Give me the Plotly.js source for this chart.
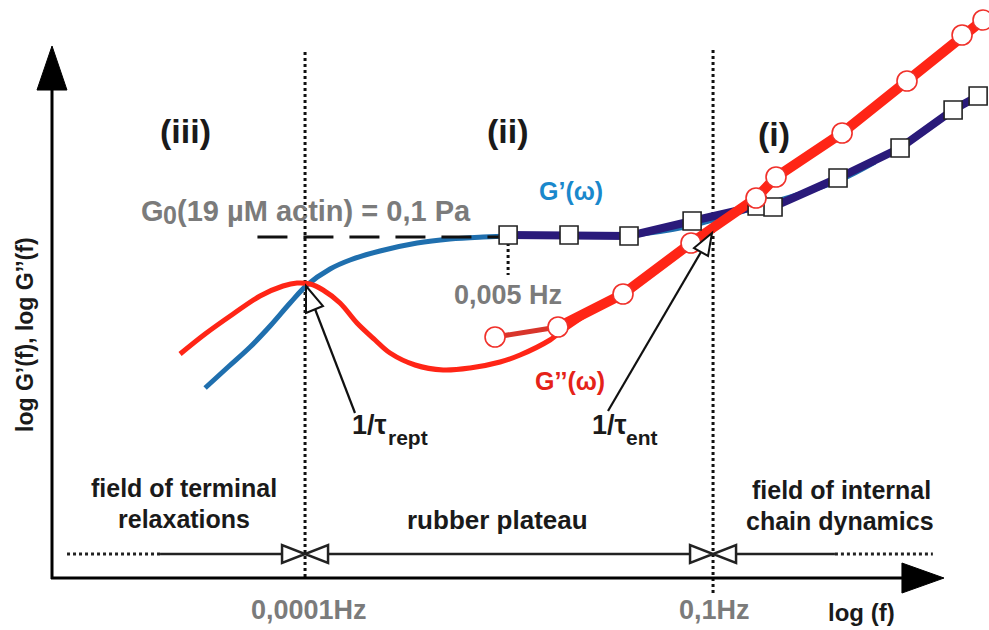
<!DOCTYPE html>
<html><head><meta charset="utf-8">
<script src="https://cdn.plot.ly/plotly-3.0.1.min.js"></script>
<style>html,body{margin:0;padding:0;background:#fff;} #chart{width:989px;height:630px;}</style>
</head><body><div id="chart"></div>
<script>
// x = log10(f / Hz), y = log G (arbitrary decades; plateau G0 = 0.1 Pa -> -1)
const modelGpX  = [-4.735, -4.566, -4.404, -4.257, -4.110, -3.985, -3.816, -3.669, -3.449, -3.176, -2.934, -2.691, -2.493, -2.051, -1.610, -1.169, -0.949, -0.654, -0.360, -0.066, 0.191];
const modelGpY  = [-2.51, -2.30, -2.10, -1.89, -1.66, -1.48, -1.32, -1.23, -1.14, -1.06, -1.02, -1.00, -0.99, -0.98, -0.98, -0.89, -0.81, -0.69, -0.57, -0.43, -0.25];
const modelGppX = [-4.919, -4.735, -4.529, -4.331, -4.162, -4.059, -3.963, -3.868, -3.743, -3.618, -3.485, -3.375, -3.191, -2.985, -2.787, -2.566, -2.419, -2.199, -2.140, -1.904];
const modelGppY = [-2.17, -1.97, -1.77, -1.59, -1.49, -1.46, -1.47, -1.53, -1.66, -1.86, -2.03, -2.16, -2.28, -2.33, -2.31, -2.25, -2.18, -2.03, -1.97, -1.75];
const dataGpX   = [-2.507, -2.059, -1.618, -1.154, -0.676, -0.559, -0.081, 0.375, 0.765, 0.949];
const dataGpY   = [-0.98, -0.98, -0.99, -0.84, -0.69, -0.70, -0.41, -0.11, 0.27, 0.41];
const dataGppX  = [-2.603, -2.140, -1.662, -1.162, -0.684, -0.537, -0.051, 0.426, 0.831, 0.985];
const dataGppY  = [-2.00, -1.90, -1.57, -1.06, -0.61, -0.40, 0.04, 0.56, 1.02, 1.17];
const plateauLogG = -1;          // G0(19 µM actin) = 0,1 Pa
const plateauStartLogF = -4.35;
const plateauOnsetLabelY = -1.38;
const crossoverLogF = [-4, -1];
const crossoverLabels = ['0,0001Hz', '0,1Hz'];
const regionLabels = ['(iii)', '(ii)', '(i)'];
const fieldLabels = [['field of terminal', 'relaxations'], ['rubber plateau'], ['field of internal', 'chain dynamics']];

const FONT = 'Liberation Sans, Arial, Helvetica, sans-serif';
const W = 989, H = 630;
const PX = x => x / W, PY = y => 1 - y / H;
const P = (x, y) => `${PX(x).toFixed(4)},${PY(y).toFixed(4)}`;

const RED = '#ff2516', BLUE = '#1f6fae', NAVY = '#2a1a7a';

const traces = [
  {x: modelGpX, y: modelGpY, mode: 'lines', line: {color: BLUE, width: 5, shape: 'spline', smoothing: 1}},
  {x: modelGppX, y: modelGppY, mode: 'lines', line: {color: RED, width: 5, shape: 'spline', smoothing: 1}},
  {x: [plateauStartLogF, dataGpX[0]], y: [plateauLogG, plateauLogG], mode: 'lines', line: {color: '#111', width: 3, dash: '30px,16px'}},
  {x: [dataGpX[0], dataGpX[0]], y: [plateauLogG, plateauOnsetLabelY], mode: 'lines', line: {color: '#111', width: 3, dash: 'dot'}},
  {x: dataGpX, y: dataGpY, mode: 'lines', line: {color: NAVY, width: 8}},
  {x: dataGppX.slice(0, 2), y: dataGppY.slice(0, 2), mode: 'lines', line: {color: '#d8352b', width: 5}},
  {x: dataGppX.slice(1), y: dataGppY.slice(1), mode: 'lines', line: {color: RED, width: 10}},
  {x: dataGpX, y: dataGpY, mode: 'markers', marker: {symbol: 'square', size: 18, color: '#fff', line: {color: '#222', width: 1.6}}},
  {x: dataGppX, y: dataGppY, mode: 'markers', marker: {symbol: 'circle', size: 20, color: '#fff', line: {color: '#f0302a', width: 1.6}}}
];

const shapes = [];
crossoverLogF.forEach((c, i) => {
  shapes.push({type: 'line', xref: 'x', yref: 'paper', x0: c, x1: c, y0: PY(i === 0 ? 577 : 593), y1: PY(50),
    line: {color: '#111', width: 3, dash: 'dot'}, layer: 'below'});
});
shapes.push({type: 'line', xref: 'paper', yref: 'paper', x0: PX(52), x1: PX(52), y0: PY(579), y1: PY(88), line: {color: '#000', width: 3}});
shapes.push({type: 'path', xref: 'paper', yref: 'paper', path: `M ${P(52,46)} L ${P(37,90)} L ${P(67,90)} Z`, fillcolor: '#000', line: {color: '#000', width: 1}});
shapes.push({type: 'line', xref: 'paper', yref: 'paper', x0: PX(51), x1: PX(905), y0: PY(578), y1: PY(578), line: {color: '#000', width: 3}});
shapes.push({type: 'path', xref: 'paper', yref: 'paper', path: `M ${P(944,578)} L ${P(902,563)} L ${P(902,593)} Z`, fillcolor: '#000', line: {color: '#000', width: 1}});

const yb = PY(554), hb = 9 / H, bw = 23 / 136, seg = 122 / 136;
const c0 = crossoverLogF[0], c1 = crossoverLogF[1];
shapes.push({type: 'line', xref: 'x', yref: 'paper', x0: c0 - bw - seg - 0.684, x1: c0 - bw - seg, y0: yb, y1: yb, line: {color: '#222', width: 3, dash: 'dot'}});
shapes.push({type: 'line', xref: 'x', yref: 'paper', x0: c0 - bw - seg, x1: c0 - bw, y0: yb, y1: yb, line: {color: '#222', width: 2.5}});
shapes.push({type: 'line', xref: 'x', yref: 'paper', x0: c0 + bw, x1: c1 - bw, y0: yb, y1: yb, line: {color: '#222', width: 2.5}});
shapes.push({type: 'line', xref: 'x', yref: 'paper', x0: c1 + bw, x1: c1 + bw + seg - 0.17, y0: yb, y1: yb, line: {color: '#222', width: 2.5}});
shapes.push({type: 'line', xref: 'x', yref: 'paper', x0: c1 + bw + seg - 0.17, x1: c1 + bw + seg + 0.55, y0: yb, y1: yb, line: {color: '#222', width: 3, dash: 'dot'}});
crossoverLogF.forEach(c => {
  shapes.push({type: 'path', xref: 'x', yref: 'paper', path: `M ${c - bw},${yb + hb} L ${c - bw},${yb - hb} L ${c},${yb} Z`, fillcolor: '#fff', line: {color: '#222', width: 2.5}});
  shapes.push({type: 'path', xref: 'x', yref: 'paper', path: `M ${c + bw},${yb + hb} L ${c + bw},${yb - hb} L ${c},${yb} Z`, fillcolor: '#fff', line: {color: '#222', width: 2.5}});
});

shapes.push({type: 'line', xref: 'paper', yref: 'paper', x0: PX(355), y0: PY(413), x1: PX(315), y1: PY(309), line: {color: '#111', width: 2.2}});
shapes.push({type: 'path', xref: 'paper', yref: 'paper', path: `M ${P(306,286)} L ${P(323,306)} L ${P(306,313)} Z`, fillcolor: '#fff', line: {color: '#111', width: 2}});
shapes.push({type: 'line', xref: 'paper', yref: 'paper', x0: PX(608), y0: PY(411), x1: PX(701), y1: PY(252), line: {color: '#111', width: 2.2}});
shapes.push({type: 'path', xref: 'paper', yref: 'paper', path: `M ${P(712,233)} L ${P(708,256)} L ${P(694,248)} Z`, fillcolor: '#fff', line: {color: '#111', width: 2}});

const ann = (text, x, y, size, color, extra) => Object.assign({
  text, x: PX(x), y: PY(y), xref: 'paper', yref: 'paper', showarrow: false,
  xanchor: 'center', yanchor: 'middle', borderpad: 0, font: {family: FONT, size, color, weight: 700}
}, extra || {});
const L = {xanchor: 'left'};

const GREY = '#7b7b7b', BLACK = '#1a1a1a';
const annotations = [
  ann(regionLabels[0], 185, 131, 34, BLACK),
  ann(regionLabels[1], 508, 131, 34, BLACK),
  ann(regionLabels[2], 774, 134, 34, BLACK),
  ann('G', 140, 211, 29, GREY, L),
  ann('0', 162, 215, 25, GREY, L),
  ann('(19 µM actin) = 0,1 Pa', 176, 211, 29, GREY, L),
  ann('G’(ω)', 571, 191, 25, '#1a88cc'),
  ann('G’’(ω)', 570, 381, 25, '#e52219'),
  ann('1/τ', 351, 425, 27, BLACK, L),
  ann('rept', 387, 437, 21, BLACK, L),
  ann('1/τ', 591, 425, 27, BLACK, L),
  ann('ent', 625, 437, 21, BLACK, L),
  ann(fieldLabels[0][0], 184, 488, 25, BLACK),
  ann(fieldLabels[0][1], 184, 519, 25, BLACK),
  ann(fieldLabels[1][0], 497, 520, 26, BLACK),
  ann(fieldLabels[2][0], 841, 490, 25, BLACK),
  ann(fieldLabels[2][1], 840, 521, 25, BLACK),
  ann('log (f)', 861, 612, 24, BLACK),
  ann('log G’(f), log G’’(f)', 25, 335, 23, BLACK, {textangle: -90}),
  {text: '0,005 Hz', x: dataGpX[0], xref: 'x', y: PY(295), yref: 'paper', showarrow: false, xanchor: 'center', yanchor: 'middle',
   font: {family: FONT, size: 27, color: GREY, weight: 700}}
];
crossoverLogF.forEach((c, i) => {
  annotations.push({text: crossoverLabels[i], x: c + (i === 0 ? 0.03 : 0.01), xref: 'x', y: PY(610), yref: 'paper', showarrow: false,
    xanchor: 'center', yanchor: 'middle', font: {family: FONT, size: 27, color: GREY, weight: 700}});
});

const layout = {
  width: W, height: H, margin: {l: 0, r: 0, t: 0, b: 0},
  paper_bgcolor: '#fff', plot_bgcolor: '#fff', showlegend: false,
  xaxis: {range: [-6.243, 1.029], visible: false, fixedrange: true},
  yaxis: {range: [-4.93, 1.37], visible: false, fixedrange: true},
  shapes, annotations
};
Plotly.newPlot('chart', traces, layout, {staticPlot: true, displayModeBar: false});
</script></body></html>
